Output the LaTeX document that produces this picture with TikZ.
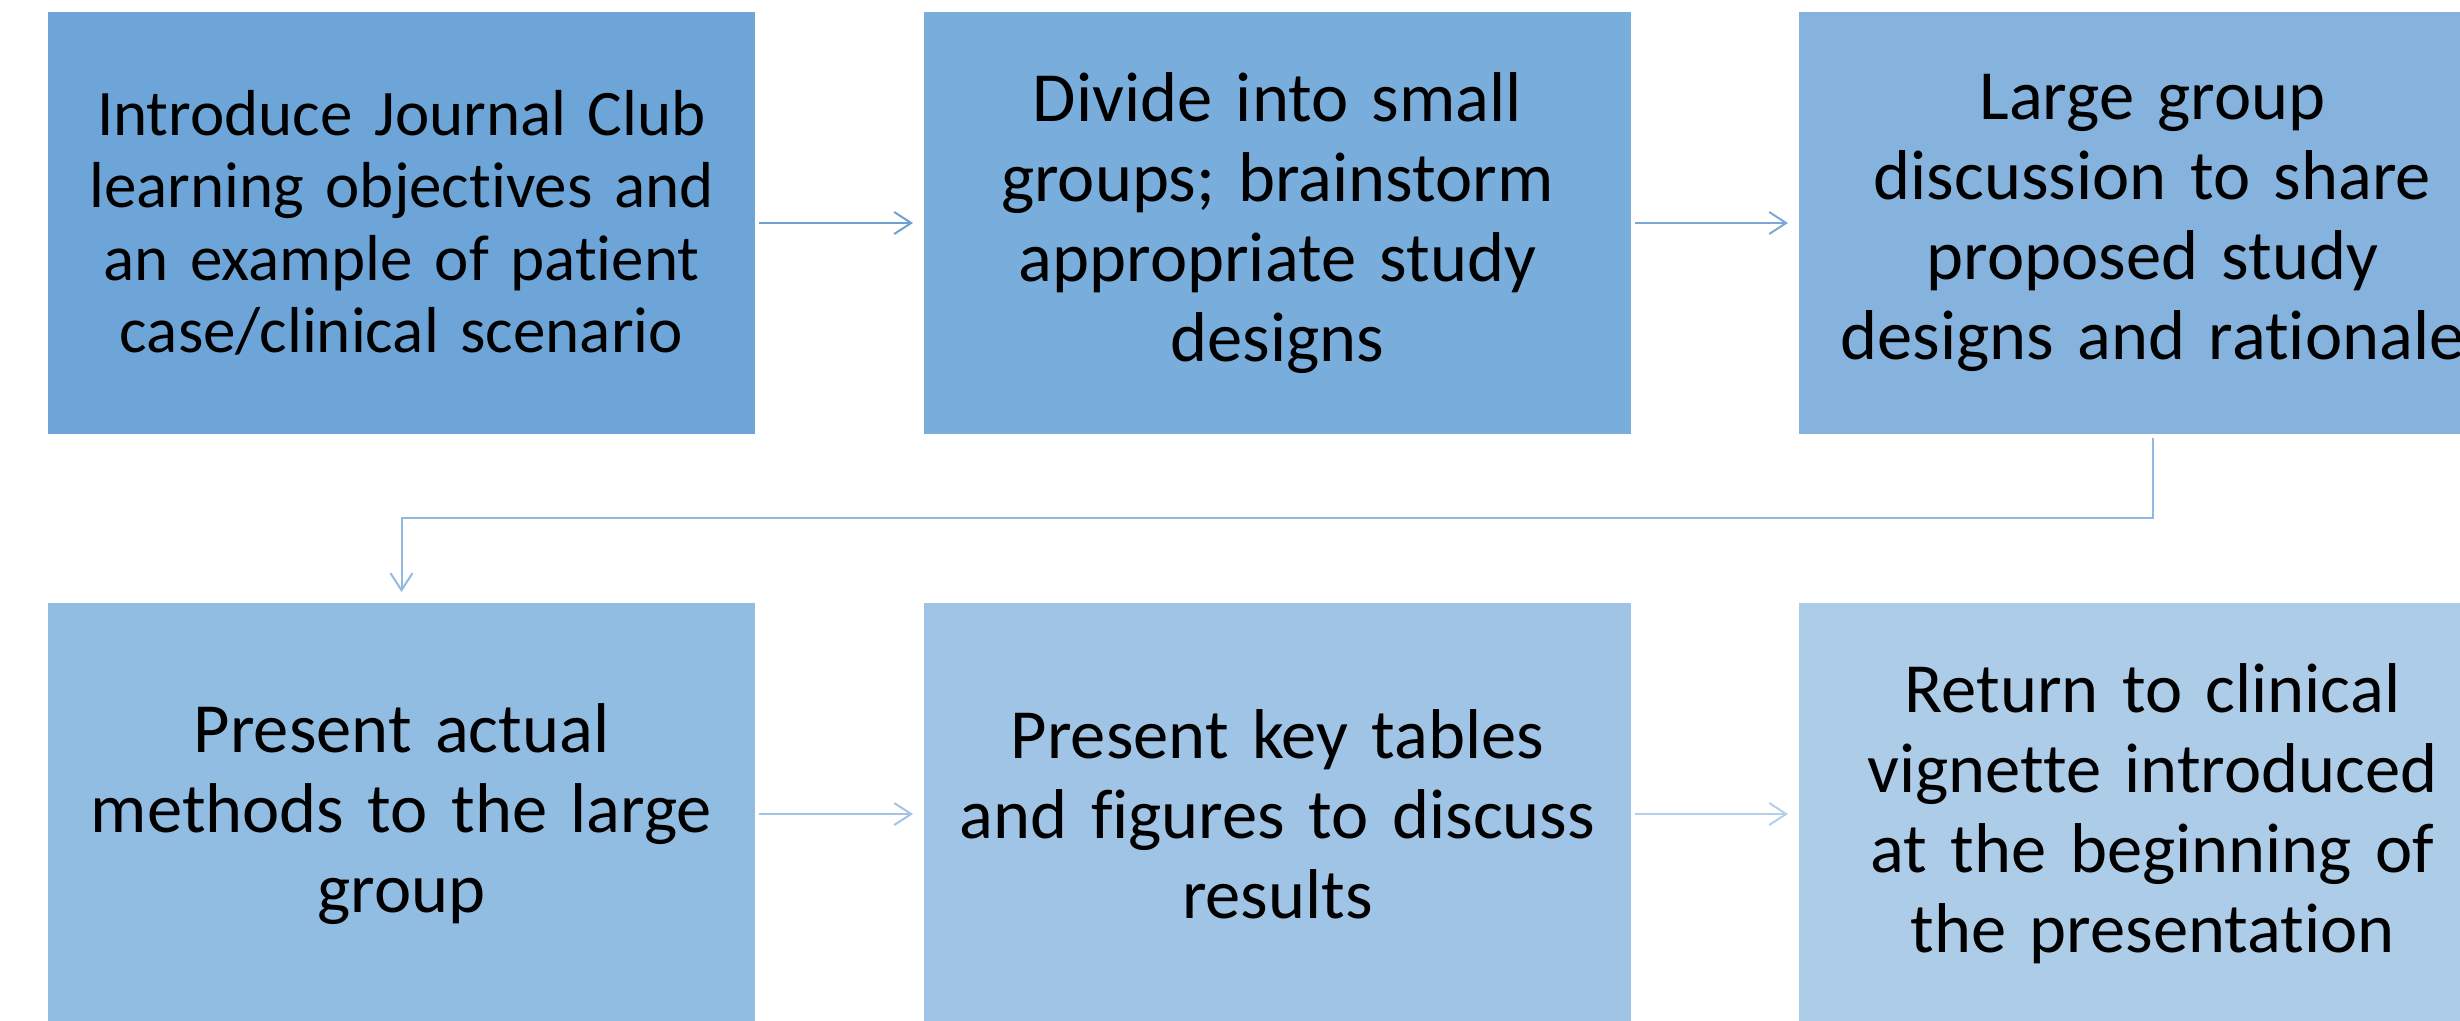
\documentclass[tikz,border=0pt]{standalone}
\usepackage{fontspec}
\setmainfont{Carlito}[Ligatures=NoCommon]
\usetikzlibrary{arrows.meta}

\definecolor{fillA}{HTML}{6DA5D8}
\definecolor{fillB}{HTML}{79ADDC}
\definecolor{fillC}{HTML}{85B3DE}
\definecolor{fillD}{HTML}{92BDE2}
\definecolor{fillE}{HTML}{A0C4E5}
\definecolor{fillF}{HTML}{ADCCE8}
\definecolor{lineA}{HTML}{6EA0D3}
\definecolor{lineB}{HTML}{7AA8D8}
\definecolor{lineC}{HTML}{93B9E1}
\definecolor{lineD}{HTML}{A3C3E6}
\definecolor{lineE}{HTML}{B4CFEB}

\tikzset{
  stepbox/.style={rectangle, draw=white, line width=1.5pt, outer sep=0pt,
    minimum width=709pt, minimum height=424pt, text width=690pt,
    align=center, inner sep=0pt, text=black},
  bigtext/.style={font=\fontsize{70.5}{80}\selectfont},
  smalltext/.style={font=\fontsize{65}{72.5}\selectfont},
  flow/.style={line width=2pt, shorten <=3pt, shorten >=10pt,
    -{Straight Barb[length=17pt,width=22pt,line width=2pt]}}
}

\begin{document}
\begin{tikzpicture}[x=1pt,y=-1pt]
  \useasboundingbox (0,0) rectangle (2460,1020);
  \clip (0,0) rectangle (2460,1020);

  % first row
  \node[stepbox, smalltext, fill=fillA] (b1) at (401.5,223)
    {Introduce Journal Club\\learning objectives and\\an example of patient\\case/clinical scenario};
  \node[stepbox, bigtext, fill=fillB] (b2) at (1277.5,223)
    {Divide into small\\groups; brainstorm\\appropriate study\\designs};
  \node[stepbox, bigtext, fill=fillC] (b3) at (2152.5,223)
    {Large group\\discussion to share\\proposed study\\designs and rationale};

  % second row
  \node[stepbox, bigtext, fill=fillD] (b4) at (401.5,814)
    {Present actual\\methods to the large\\group};
  \node[stepbox, bigtext, fill=fillE] (b5) at (1277.5,814)
    {Present key tables\\and figures to discuss\\results};
  \node[stepbox, bigtext, fill=fillF] (b6) at (2152.5,814)
    {Return to clinical\\vignette introduced\\at the beginning of\\the presentation};

  % connectors
  \coordinate (elbow) at (2152.5,518);
  \draw[flow, draw=lineA] (b1.east) -- (b2.west);
  \draw[flow, draw=lineB] (b2.east) -- (b3.west);
  \draw[flow, draw=lineC] (b3.south) -- (elbow) -| (b4.north);
  \draw[flow, draw=lineD] (b4.east) -- (b5.west);
  \draw[flow, draw=lineE] (b5.east) -- (b6.west);
\end{tikzpicture}
\end{document}
